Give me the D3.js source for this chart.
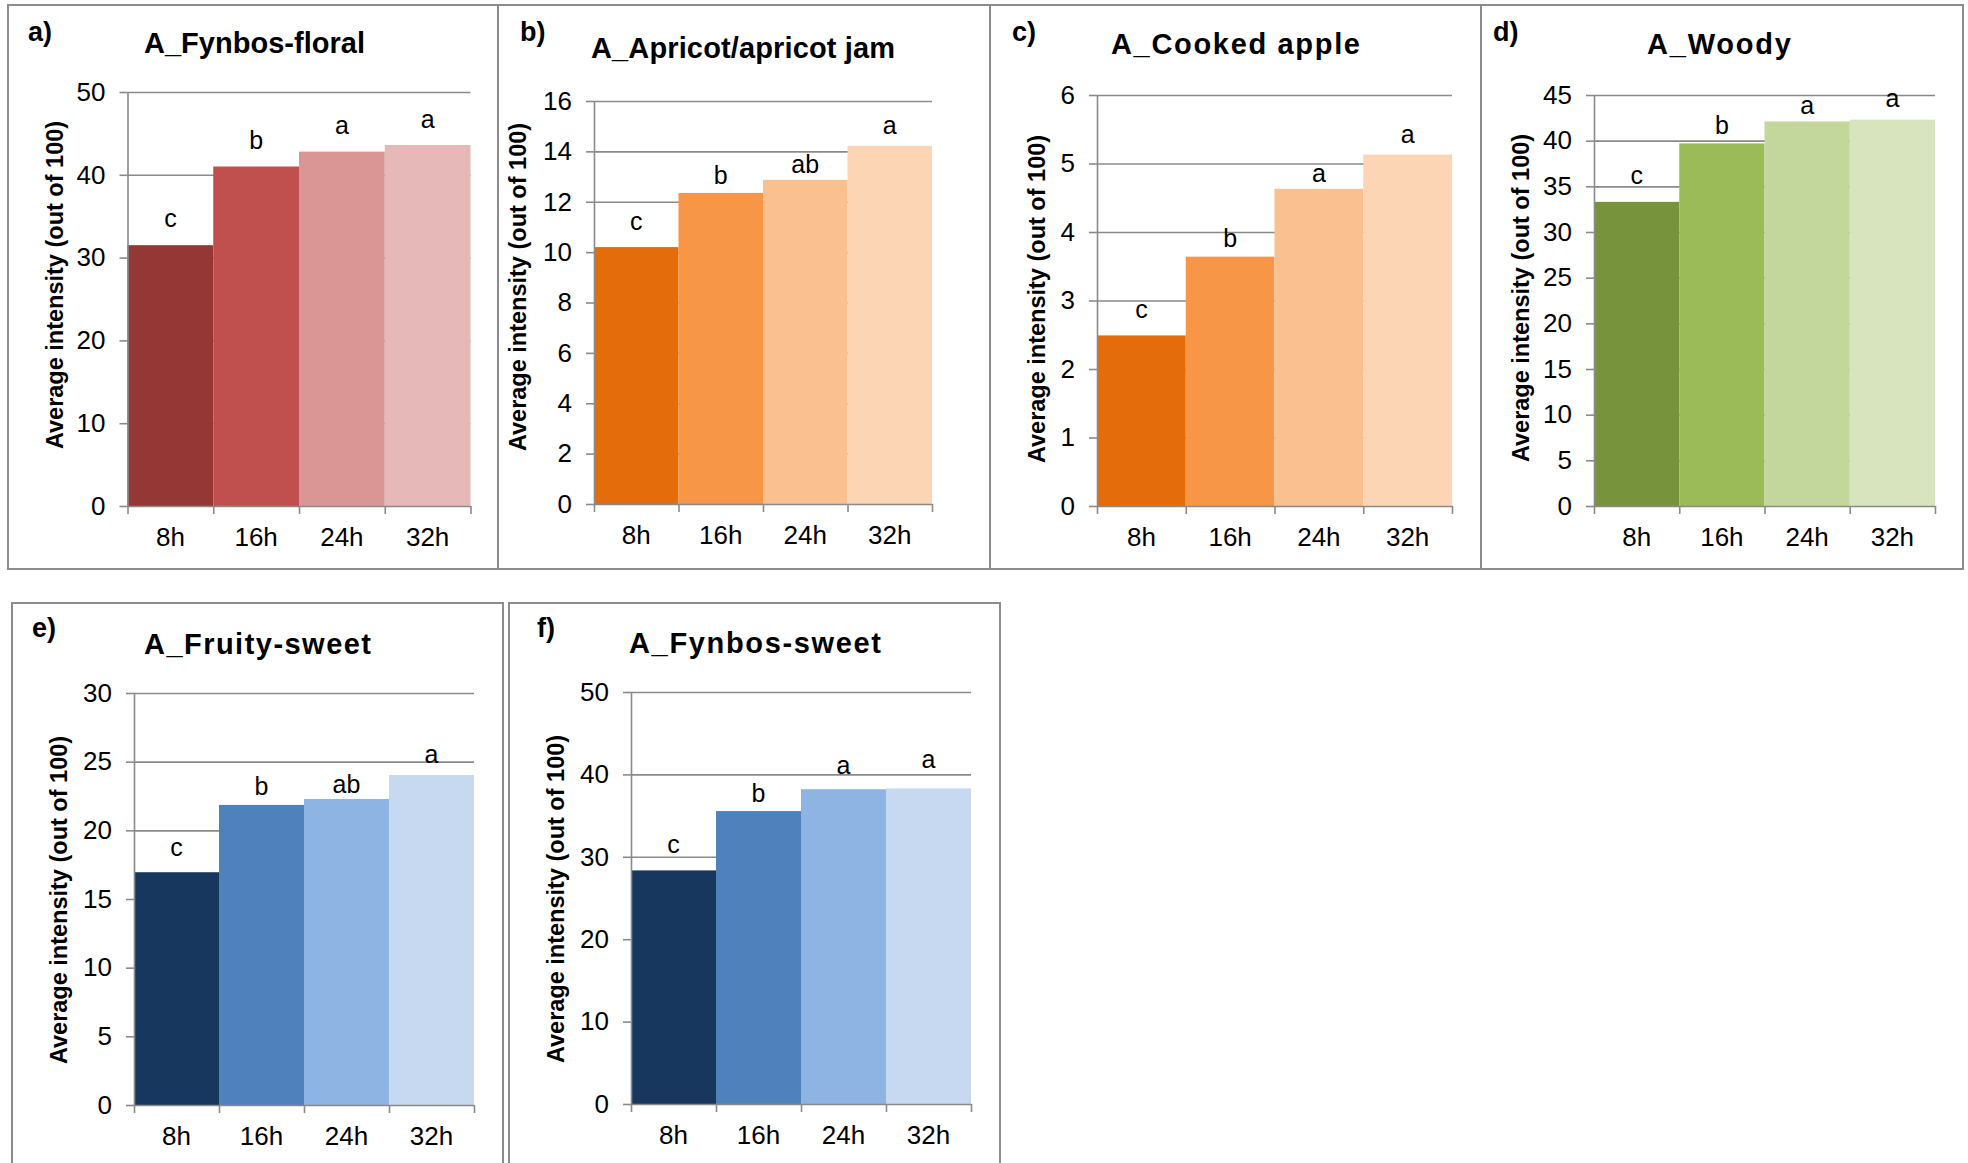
<!doctype html>
<html lang="en">
<head>
    <meta charset="utf-8">
    <title>Average aroma intensity</title>
    <style>
        body { margin: 0; background: #fff; }
        svg { display: block; font-family: "Liberation Sans", Arial, sans-serif; }
        .frame { fill: none; stroke: #8c8c8c; stroke-width: 2; }
        .axis path, .axis line { stroke: #8a8a8a; stroke-width: 1.6; }
        .grid line { stroke: #8a8a8a; stroke-width: 1.6; }
        .grid path { display: none; }
        .axis text { font-size: 26px; fill: #000; }
    </style>
</head>
<body>
<div id="chart"></div>
<script src="https://cdn.jsdelivr.net/npm/d3@7"></script>
<script>
    // data
    var hours = ["8h", "16h", "24h", "32h"];

    var panelTags = ["a)", "b)", "c)", "d)", "e)", "f)"];
    var panelTitles = ["A_Fynbos-floral", "A_Apricot/apricot jam", "A_Cooked apple",
        "A_Woody", "A_Fruity-sweet", "A_Fynbos-sweet"];

    var fynbosFloral = [31.5, 41.0, 42.8, 43.6];
    var apricotJam = [10.2, 12.35, 12.87, 14.22];
    var cookedApple = [2.49, 3.64, 4.63, 5.13];
    var woody = [33.3, 39.7, 42.1, 42.3];
    var fruitySweet = [16.95, 21.85, 22.28, 24.03];
    var fynbosSweet = [28.35, 35.55, 38.2, 38.3];

    var lettersA = ["c", "b", "a", "a"];
    var lettersB = ["c", "b", "ab", "a"];
    var lettersC = ["c", "b", "a", "a"];
    var lettersD = ["c", "b", "a", "a"];
    var lettersE = ["c", "b", "ab", "a"];
    var lettersF = ["c", "b", "a", "a"];

    var yMax = [50, 16, 6, 45, 30, 50];
    var yStep = [10, 2, 1, 5, 5, 10];

    var reds = ["#953735", "#c0504d", "#d99694", "#e6b9b8"];
    var oranges = ["#e46c0a", "#f79646", "#fac090", "#fcd5b5"];
    var greens = ["#77933c", "#9bbb59", "#c3d69b", "#d7e4bd"];
    var blues = ["#17375e", "#4f81bd", "#8eb4e3", "#c6d9f1"];

    var series = [fynbosFloral, apricotJam, cookedApple, woody, fruitySweet, fynbosSweet];
    var letters = [lettersA, lettersB, lettersC, lettersD, lettersE, lettersF];
    var palettes = [reds, oranges, oranges, greens, blues, blues];

    // panel layout (pixels)
    var layout = [
        { frame: [8, 5, 490, 564], plot: [127.5, 92, 470.5, 506], tag: [28, 41], title: [144, 53, 221],
          ylab: [55, 285], lift: [18, 18, 18, 17] },
        { frame: [498, 5, 492, 564], plot: [594, 101, 932, 504], tag: [520, 41], title: [591, 57.5, 304],
          ylab: [518, 287], lift: [17, 9, 7, 12] },
        { frame: [990, 5, 491, 564], plot: [1097, 95, 1452, 506], tag: [1012, 41], title: [1111, 54, 249],
          ylab: [1037, 299], lift: [17, 10, 7, 12] },
        { frame: [1481, 5, 482, 564], plot: [1594, 95, 1935, 506], tag: [1493, 41], title: [1647, 54, 144],
          ylab: [1521, 298], lift: [18, 9, 7, 13] },
        { frame: [12, 603, 491, 600], plot: [134, 693, 474, 1105], tag: [32, 637], title: [144, 654, 227],
          ylab: [59, 900], lift: [16, 10, 6, 12] },
        { frame: [509, 603, 491, 600], plot: [631, 692, 971, 1104], tag: [537, 637], title: [629, 652.5, 252],
          ylab: [556, 899], lift: [17, 9, 15, 20] }
    ];

    var svg = d3.select("#chart").append("svg")
        .attr("width", 1968)
        .attr("height", 1163);

    svg.append("rect").attr("width", 1968).attr("height", 1163).attr("fill", "#fff");

    layout.forEach(function (L, i) {
        var g = svg.append("g");
        var p = L.plot;

        g.append("rect").attr("class", "frame")
            .attr("x", L.frame[0]).attr("y", L.frame[1])
            .attr("width", L.frame[2]).attr("height", L.frame[3]);

        var x = d3.scaleBand().domain(hours).range([p[0], p[2]]).padding(0);
        var xEdge = d3.scaleLinear().domain([0, hours.length]).range([p[0], p[2]]);
        var y = d3.scaleLinear().domain([0, yMax[i]]).range([p[3], p[1]]);
        var ticks = d3.range(0, yMax[i] + yStep[i] / 2, yStep[i]);

        // gridlines behind the bars
        g.append("g").attr("class", "grid")
            .attr("transform", "translate(" + p[0] + ",0)")
            .call(d3.axisLeft(y).tickValues(ticks.slice(1)).tickSize(-(p[2] - p[0])).tickFormat(""));

        g.selectAll(".bar").data(series[i]).enter()
            .append("rect")
            .attr("x", function (d, j) { return x(hours[j]); })
            .attr("y", function (d) { return y(d); })
            .attr("width", x.bandwidth())
            .attr("height", function (d) { return y(0) - y(d); })
            .attr("fill", function (d, j) { return palettes[i][j]; });

        g.append("g").attr("class", "axis")
            .attr("transform", "translate(" + p[0] + ",0)")
            .call(d3.axisLeft(y).tickValues(ticks).tickSize(8).tickSizeOuter(0).tickPadding(14)
                .tickFormat(d3.format("d")));

        g.append("g").attr("class", "axis")
            .attr("transform", "translate(0," + p[3] + ")")
            .call(d3.axisBottom(xEdge).tickValues(d3.range(hours.length + 1)).tickSize(8)
                .tickSizeOuter(0).tickFormat(""));

        g.append("g").attr("class", "axis")
            .attr("transform", "translate(0," + p[3] + ")")
            .call(d3.axisBottom(x).tickSize(0).tickPadding(22))
            .call(function (s) { s.select(".domain").remove(); });

        // significance letters
        g.selectAll(".sig").data(series[i]).enter()
            .append("text")
            .attr("x", function (d, j) { return x(hours[j]) + x.bandwidth() / 2; })
            .attr("y", function (d, j) { return y(d) - L.lift[j]; })
            .attr("text-anchor", "middle")
            .style("font-size", "25px")
            .text(function (d, j) { return letters[i][j]; });

        g.append("text")
            .attr("x", L.tag[0]).attr("y", L.tag[1])
            .style("font-size", "27px").style("font-weight", "bold")
            .text(panelTags[i]);

        g.append("text")
            .attr("x", L.title[0]).attr("y", L.title[1])
            .attr("textLength", L.title[2]).attr("lengthAdjust", "spacing")
            .style("font-size", "29px").style("font-weight", "bold")
            .text(panelTitles[i]);

        g.append("text")
            .attr("transform", "translate(" + L.ylab[0] + "," + L.ylab[1] + ") rotate(-90)")
            .attr("text-anchor", "middle")
            .attr("dy", "0.35em")
            .style("font-size", "23.5px").style("font-weight", "bold")
            .text("Average intensity (out of 100)");
    });
</script>
</body>
</html>
